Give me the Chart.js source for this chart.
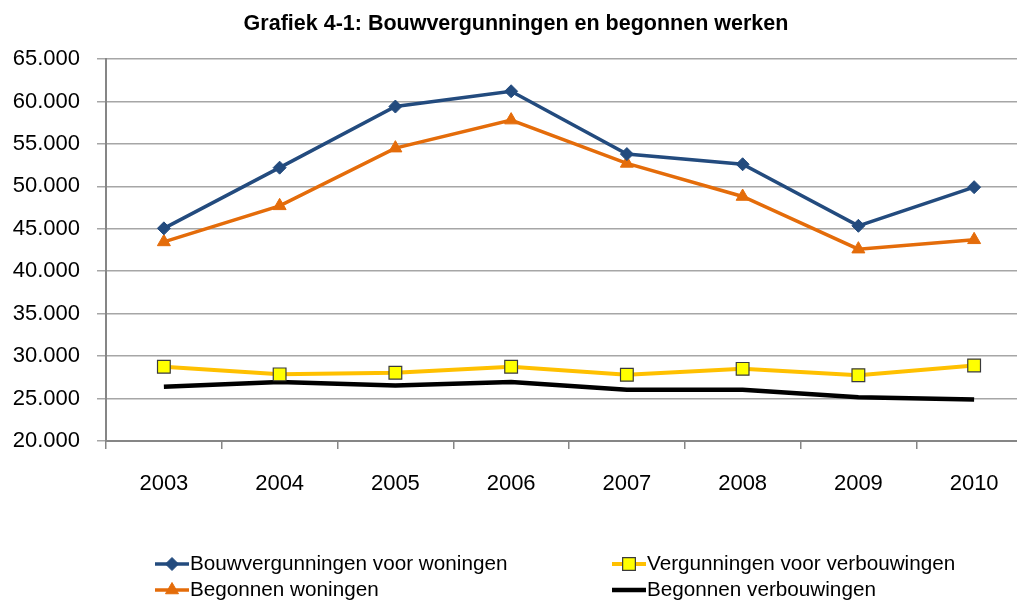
<!DOCTYPE html>
<html>
<head>
<meta charset="utf-8">
<script src="https://cdn.jsdelivr.net/npm/chart.js@4/dist/chart.umd.min.js"></script>
<style>
  html, body { margin: 0; padding: 0; background: #fff; overflow: hidden; }
  #wrap { position: absolute; left: 0; top: 0; width: 1045px; height: 602px; }
</style>
</head>
<body>
<div id="wrap"><canvas id="chart" width="1045" height="602"></canvas></div>
<script>
// Chart data
const years = ['2003', '2004', '2005', '2006', '2007', '2008', '2009', '2010'];
const bouwvergunningenWoningen = [45050, 52200, 59400, 61200, 53800, 52600, 45350, 49900];
const begonnenWoningen = [43450, 47700, 54500, 57800, 52700, 48800, 42600, 43700];
const vergunningenVerbouwingen = [28750, 27850, 28050, 28750, 27800, 28500, 27750, 28900];
const begonnenVerbouwingen = [26400, 26950, 26550, 26950, 26050, 26050, 25150, 24900];
const yTicks = [20000, 25000, 30000, 35000, 40000, 45000, 50000, 55000, 60000, 65000];

const fontFamily = "'Liberation Sans Narrow', 'Arial Narrow', 'Liberation Sans', sans-serif";
const gridColor = '#a6a6a6';
const axisColor = '#868686';

// thousands separator with a dot
const fmt = function(v){
    return String(v).replace(/\B(?=(\d{3})+(?!\d))/g, '.');
};

// Legend in two columns, like the original
const legendPlugin = {
    id: 'twoColLegend',
    afterDraw: function(chart){
        const ctx = chart.ctx;
        const spots = [[155, 564], [155, 590], [612, 564], [612, 590]];
        ctx.save();
        ctx.font = '20.7px ' + fontFamily;
        ctx.textBaseline = 'middle';
        chart.data.datasets.forEach(function(ds, i){
            const x = spots[i][0], y = spots[i][1];
            ctx.strokeStyle = ds.borderColor;
            ctx.lineWidth = ds.borderWidth;
            ctx.beginPath();
            ctx.moveTo(x, y);
            ctx.lineTo(x + 34, y);
            ctx.stroke();
            if (ds.pointRadius > 0) {
                ctx.fillStyle = ds.pointBackgroundColor;
                ctx.strokeStyle = ds.pointBorderColor;
                ctx.lineWidth = ds.pointBorderWidth;
                Chart.helpers.drawPoint(ctx, {
                    pointStyle: ds.pointStyle,
                    radius: ds.pointRadius,
                    borderWidth: ds.pointBorderWidth,
                    rotation: 0
                }, x + 17, y);
            }
            ctx.fillStyle = '#000';
            ctx.fillText(ds.label, x + 35, y);
        });
        ctx.restore();
    }
};

const ctx = document.getElementById('chart').getContext('2d');
const chart = new Chart(ctx, {
    type: 'line',
    data: {
        labels: years,
        datasets: [{
            label: 'Bouwvergunningen voor woningen',
            data: bouwvergunningenWoningen,
            borderColor: '#234b7e',
            backgroundColor: '#234b7e',
            borderWidth: 3.5,
            pointStyle: 'rectRot',
            pointRadius: 6.5,
            pointBackgroundColor: '#234b7e',
            pointBorderColor: '#234b7e',
            pointBorderWidth: 1
        }, {
            label: 'Begonnen woningen',
            data: begonnenWoningen,
            borderColor: '#e46c0a',
            backgroundColor: '#e46c0a',
            borderWidth: 3.5,
            pointStyle: 'triangle',
            pointRadius: 7.5,
            pointBackgroundColor: '#e46c0a',
            pointBorderColor: '#e46c0a',
            pointBorderWidth: 1
        }, {
            label: 'Vergunningen voor verbouwingen',
            data: vergunningenVerbouwingen,
            borderColor: '#ffc000',
            backgroundColor: '#ffff00',
            borderWidth: 4,
            pointStyle: 'rect',
            pointRadius: 9,
            pointBackgroundColor: '#ffff00',
            pointBorderColor: '#3a3a3a',
            pointBorderWidth: 1.2
        }, {
            label: 'Begonnen verbouwingen',
            data: begonnenVerbouwingen,
            borderColor: '#000000',
            backgroundColor: '#000000',
            borderWidth: 4.5,
            pointRadius: 0,
            pointBorderWidth: 0
        }]
    },
    options: {
        responsive: false,
        animation: false,
        devicePixelRatio: 1,
        layout: { padding: { left: 0, right: 13, top: 0, bottom: 0 } },
        plugins: {
            legend: { display: false },
            tooltip: { enabled: false },
            title: {
                display: true,
                text: 'Grafiek 4-1: Bouwvergunningen en begonnen werken',
                color: '#000',
                font: { family: fontFamily, size: 21.5, weight: 'bold', lineHeight: 1.2 },
                padding: { top: 11, bottom: 22.2 }
            }
        },
        scales: {
            x: {
                offset: true,
                grid: {
                    offset: true,
                    drawOnChartArea: false,
                    drawTicks: true,
                    tickLength: 8,
                    color: axisColor,
                    lineWidth: 1.5
                },
                border: { color: axisColor, width: 2 },
                ticks: {
                    color: '#000',
                    padding: 22,
                    font: { family: fontFamily, size: 22 }
                },
                afterFit: function(scale){ scale.height = 161; }
            },
            y: {
                min: 20000,
                max: 65000,
                afterBuildTicks: function(scale){
                    scale.ticks = yTicks.map(function(v){ return { value: v }; });
                },
                grid: {
                    color: gridColor,
                    lineWidth: 1.5,
                    tickLength: 9
                },
                border: { color: axisColor, width: 2 },
                ticks: {
                    color: '#000',
                    padding: 17,
                    font: { family: fontFamily, size: 22 },
                    callback: function(v){ return fmt(v); }
                },
                afterFit: function(scale){ scale.width = 106; }
            }
        }
    },
    plugins: [legendPlugin]
});
</script>
</body>
</html>
